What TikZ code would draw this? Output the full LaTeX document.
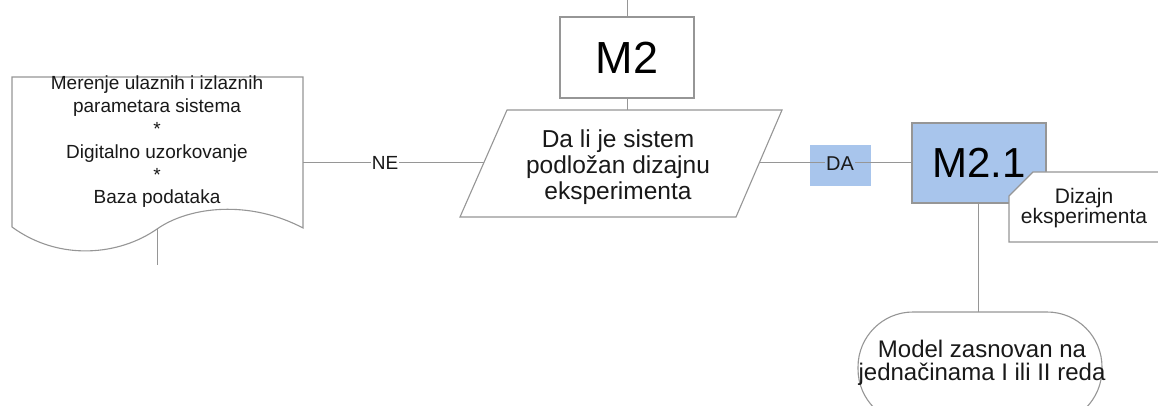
\documentclass[tikz,border=0pt]{standalone}
\usepackage{fontspec}
\setmainfont{Liberation Sans}
\definecolor{edge}{RGB}{150,150,150}
\definecolor{boxblue}{RGB}{168,197,236}
\tikzset{
  shapeline/.style={draw=edge, line width=1.1pt},
  link/.style={draw=edge, line width=1pt},
  txt/.style={align=center, inner sep=0pt, text=black!90},
  plainbox/.style={shapeline, fill=white, inner sep=0pt, minimum width=134pt},
  bluebox/.style={shapeline, fill=boxblue, inner sep=0pt},
}
\begin{document}
\begin{tikzpicture}[x=1pt,y=-1pt]
\useasboundingbox (0,0) rectangle (1158,406);
\clip (0,0) rectangle (1158,406);

% data document with wavy bottom
\draw[shapeline, fill=white] (12,77) -- (303,77) -- (303,228)
  .. controls (250,200) and (190,206) .. (157,229)
  .. controls (120,255) and (60,262) .. (12,227) -- cycle;
\coordinate (docE) at (303,163);
\coordinate (docS) at (157,229);
\coordinate (docTail) at (157,265);
\node[txt, font=\fontsize{19}{22.8}\selectfont] (doctext) at (157,142)
  {Merenje ulaznih i izlaznih\\parametara sistema\\*\\Digitalno uzorkovanje\\*\\Baza podataka};
\draw[link] (docS) -- (docTail);

% decision parallelogram
\draw[shapeline, fill=white] (507,110) -- (782,110) -- (736,217) -- (460,217) -- cycle;
\coordinate (parW) at (483.5,163);
\coordinate (parE) at (759,163);
\coordinate (parN) at (627,110);
\node[txt, font=\fontsize{24.5}{26}\selectfont] (question) at (618,167)
  {Da li je sistem\\podložan dizajnu\\eksperimenta};

% M2 block
\node[plainbox, minimum height=81pt, font=\fontsize{45}{45}\selectfont] (m2) at (627,57.5) {M2};
\coordinate (m2top) at (627,0);
\draw[link] (m2.north) -- (m2top);
\draw[link] (m2.south) -- (parN);

% NE branch
\draw[link] (docE) -- (parW);
\node[txt, fill=white, inner xsep=1pt, font=\fontsize{19}{19}\selectfont] (ne) at (385,163) {NE};

% M2.1 block and DA branch
\node[fill=boxblue, inner sep=0pt, minimum width=61pt, minimum height=41pt] (dabox) at (840,165.5) {};
\node[bluebox, minimum width=134pt, minimum height=80pt, font=\fontsize{42}{42}\selectfont] (m21) at (979,163) {M2.1};
\draw[link] (parE) -- (m21.west);
\node[txt, fill=boxblue, inner xsep=1pt, font=\fontsize{20}{20}\selectfont] (da) at (840,164) {DA};

% annotation tab
\draw[shapeline, fill=white] (1033,172) -- (1175,172) -- (1175,242) -- (1009,242) -- (1009,196) -- cycle;
\node[txt, font=\fontsize{21}{20.5}\selectfont] (dizajn) at (1084,208) {Dizajn\\eksperimenta};

% terminal
\node[shapeline, fill=white, rounded corners=55pt, minimum width=244pt, minimum height=112pt] (term) at (980,368) {};
\node[txt, font=\fontsize{24}{23.5}\selectfont] (termtext) at (982,363)
  {Model zasnovan na\\jednačinama I ili II reda};
\coordinate (m21foot) at (978,203);
\coordinate (termtop) at (978,312);
\draw[link] (m21foot) -- (termtop);
\end{tikzpicture}
\end{document}
